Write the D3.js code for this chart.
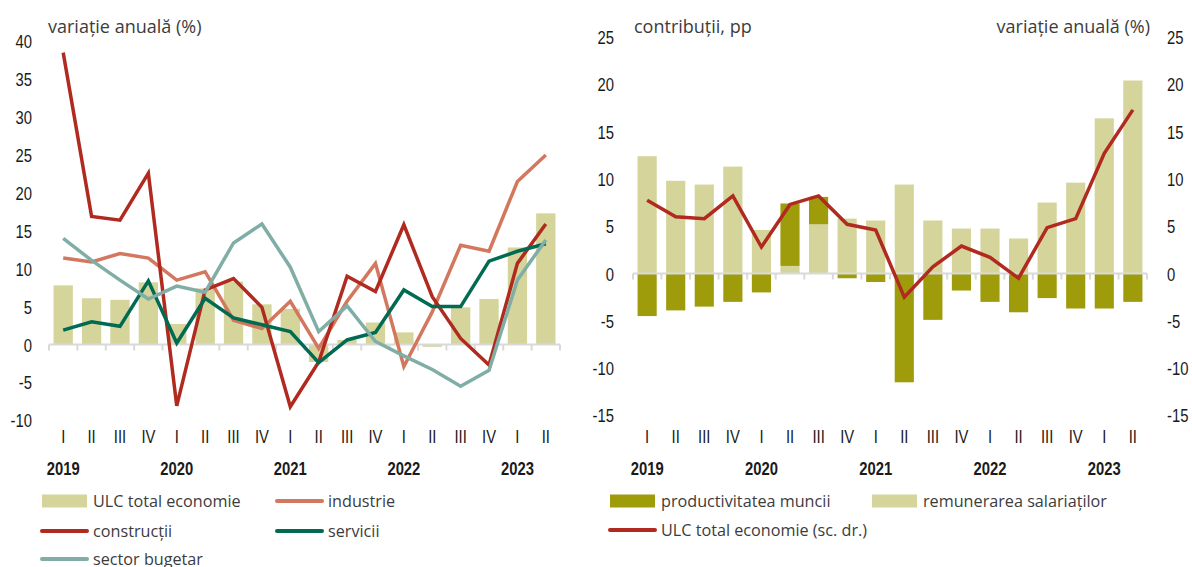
<!DOCTYPE html>
<meta charset="utf-8">
<style>
  body { margin: 0; background: #fff; }
  .tick-lbl { font-family: "Liberation Sans", Arial, sans-serif; font-size: 19px; fill: #1a1a1a; }
  .ttl { font-family: "Open Sans", "Noto Sans", sans-serif; font-size: 18px; fill: #3c3c3c; }
  .leg { font-family: "Open Sans", "Noto Sans", sans-serif; font-size: 16.2px; fill: #3c3c3c; }
</style>
<div id="chart"></div>

<script src="https://cdn.jsdelivr.net/npm/d3@7"></script>
<script>

var quarters = ["I","II","III","IV","I","II","III","IV","I","II","III","IV","I","II","III","IV","I","II"];
var years = ["2019","2020","2021","2022","2023"];

// left panel: annual change (%)
var ulcTotal   = [7.8, 6.1, 5.9, 8.2, 2.7, 7.4, 8.3, 5.3, 4.7, -2.3, 0.6, 2.9, 1.6, -0.3, 4.9, 6.0, 12.8, 17.3];
var industrie  = [11.4, 10.9, 12.0, 11.4, 8.5, 9.6, 3.2, 2.1, 5.7, -0.5, 5.7, 10.7, -2.9, 4.3, 13.1, 12.3, 21.5, 25.0];
var constructii = [38.5, 16.9, 16.4, 22.6, -8.1, 7.2, 8.7, 4.9, -8.2, -2.3, 9.0, 7.0, 15.8, 6.3, 0.8, -2.7, 10.7, 15.9];
var servicii   = [1.9, 3.0, 2.4, 8.4, 0.2, 6.1, 3.5, 2.6, 1.7, -2.4, 0.6, 1.6, 7.2, 5.0, 5.0, 11.0, 12.3, 13.3];
var sectorBugetar = [14.0, 11.1, 8.5, 6.0, 7.7, 6.9, 13.4, 15.9, 10.2, 1.7, 5.1, 0.4, -1.5, -3.3, -5.5, -3.4, 8.5, 13.8];

// right panel: contributions (pp) and ULC line (right scale)
var productivitate = [-4.5, -3.9, -3.5, -3.0, -2.0, 6.6, 2.9, -0.5, -0.9, -11.5, -4.9, -1.8, -3.0, -4.1, -2.6, -3.7, -3.7, -3.0];
var remunerare     = [12.4, 9.8, 9.4, 11.3, 4.6, 0.8, 5.2, 5.8, 5.6, 9.4, 5.6, 4.75, 4.75, 3.7, 7.5, 9.6, 16.4, 20.4];
var ulcLine        = [7.75, 6.0, 5.8, 8.2, 2.8, 7.3, 8.2, 5.2, 4.6, -2.5, 0.7, 2.9, 1.7, -0.5, 4.85, 5.8, 12.7, 17.3];

var leftTicks = [-10, -5, 0, 5, 10, 15, 20, 25, 30, 35, 40];
var rightTicks = [-15, -10, -5, 0, 5, 10, 15, 20, 25];

var cLight = "#d4d49b", cDark = "#9e9c0b", cInd = "#d3775f", cCon = "#b02a1f",
    cSer = "#006b52", cBug = "#80aea6", cAxis = "#d9d9d9";

var idx = d3.range(quarters.length);
var narrow = 0.78; // horizontal squeeze for the condensed tick font

var svg = d3.select("#chart").append("svg")
    .attr("width", 1192)
    .attr("height", 567);

// condensed label: real text, squeezed horizontally
function nText(g, x, y, txt, anchor, bold) {
  g.append("text")
    .attr("class", "tick-lbl")
    .attr("transform", "translate(" + x + "," + y + ") scale(" + narrow + ",1)")
    .attr("text-anchor", anchor)
    .style("font-weight", bold ? "bold" : null)
    .text(txt);
}

function drawAxisX(g, x, y) {
  var y0 = y(0);
  g.append("line")
    .attr("x1", x.range()[0]).attr("x2", x.range()[1])
    .attr("y1", y0).attr("y2", y0)
    .attr("stroke", cAxis).attr("stroke-width", 2);
  var bounds = idx.map(function(i) { return x(i) - x.step() * x.paddingInner() / 2; }).concat([x.range()[1]]);
  bounds[0] = x.range()[0];
  g.selectAll(".xt").data(bounds).enter().append("line")
    .attr("x1", function(d) { return d; }).attr("x2", function(d) { return d; })
    .attr("y1", y0).attr("y2", y0 + 6)
    .attr("stroke", cAxis).attr("stroke-width", 2);
  idx.forEach(function(i) {
    nText(g, x(i) + x.bandwidth() / 2, 443, quarters[i], "middle", false);
  });
  years.forEach(function(d, k) {
    nText(g, x(k * 4) + x.bandwidth() / 2, 475, d, "middle", true);
  });
}

function lineOf(x, y) {
  return d3.line()
    .x(function(d, i) { return x(i) + x.bandwidth() / 2; })
    .y(function(d) { return y(d); });
}

// ---------- left panel ----------
var xL = d3.scaleBand().domain(idx).range([49, 560]).paddingInner(0.32).paddingOuter(0.16);
var yL = d3.scaleLinear().domain([-10, 40]).range([420.3, 41.3]);
var gL = svg.append("g");

leftTicks.forEach(function(d) { nText(gL, 32, yL(d) + 7, d, "end", false); });

gL.append("text").attr("class", "ttl").attr("x", 48).attr("y", 33).text("variație anuală (%)");

gL.selectAll(".bar").data(ulcTotal).enter().append("rect")
  .attr("x", function(d, i) { return xL(i); })
  .attr("width", xL.bandwidth())
  .attr("y", function(d) { return yL(Math.max(0, d)); })
  .attr("height", function(d) { return Math.abs(yL(d) - yL(0)); })
  .attr("fill", cLight);

drawAxisX(gL, xL, yL);

[[industrie, cInd], [constructii, cCon], [servicii, cSer], [sectorBugetar, cBug]].forEach(function(s) {
  gL.append("path").datum(s[0])
    .attr("d", lineOf(xL, yL))
    .attr("fill", "none").attr("stroke", s[1]).attr("stroke-width", 3.5);
});

// ---------- right panel ----------
var xR = d3.scaleBand().domain(idx).range([633, 1147]).paddingInner(0.33).paddingOuter(0.16);
var yR = d3.scaleLinear().domain([-15, 25]).range([415.4, 37]);
var gR = svg.append("g");

rightTicks.forEach(function(d) {
  nText(gR, 614, yR(d) + 7, d, "end", false);
  nText(gR, 1167, yR(d) + 7, d, "start", false);
});

gR.append("text").attr("class", "ttl").attr("x", 634).attr("y", 33).text("contribuții, pp");
gR.append("text").attr("class", "ttl").attr("x", 1150).attr("y", 33).attr("text-anchor", "end").text("variație anuală (%)");

// stacked: positives stack upward, negatives downward
idx.forEach(function(i) {
  var pos = 0, neg = 0;
  [[remunerare[i], cLight], [productivitate[i], cDark]].forEach(function(p) {
    var v = p[0], y0, y1;
    if (v >= 0) { y0 = pos; y1 = pos + v; pos = y1; }
    else { y0 = neg; y1 = neg + v; neg = y1; }
    gR.append("rect")
      .attr("x", xR(i)).attr("width", xR.bandwidth())
      .attr("y", yR(Math.max(y0, y1)))
      .attr("height", Math.abs(yR(y0) - yR(y1)))
      .attr("fill", p[1]);
  });
});

drawAxisX(gR, xR, yR);

gR.append("path").datum(ulcLine)
  .attr("d", lineOf(xR, yR))
  .attr("fill", "none").attr("stroke", cCon).attr("stroke-width", 3.5);

// ---------- legends ----------
function legRect(x, y, color, label) {
  svg.append("rect").attr("x", x).attr("y", y - 6.5).attr("width", 45).attr("height", 13).attr("fill", color);
  svg.append("text").attr("class", "leg").attr("x", x + 51).attr("y", y + 6).text(label);
}
function legLine(x, y, color, label) {
  svg.append("line").attr("x1", x).attr("x2", x + 45).attr("y1", y).attr("y2", y)
    .attr("stroke", color).attr("stroke-width", 4).attr("stroke-linecap", "round");
  svg.append("text").attr("class", "leg").attr("x", x + 51).attr("y", y + 6).text(label);
}

legRect(42, 501, cLight, "ULC total economie");
legLine(277, 501, cInd, "industrie");
legLine(42, 531, cCon, "construcții");
legLine(277, 531, cSer, "servicii");
legLine(42, 559, cBug, "sector bugetar");

legRect(610, 501, cDark, "productivitatea muncii");
legRect(872, 501, cLight, "remunerarea salariaților");
legLine(610, 530, cCon, "ULC total economie (sc. dr.)");

</script>
